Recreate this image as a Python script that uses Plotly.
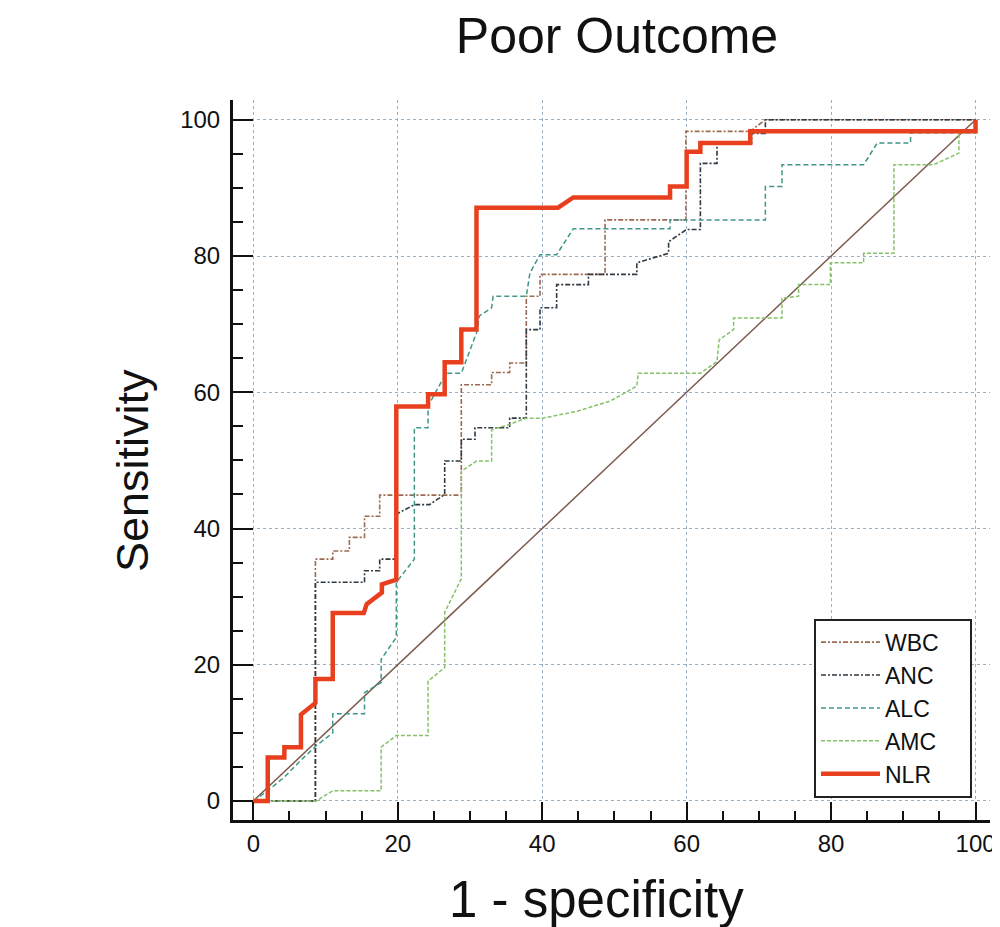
import plotly.graph_objects as go

# ---- Data (1 - specificity, sensitivity) in percent ----
nlr_x = [0, 2, 2, 4.3, 4.3, 6.6, 6.6, 8.6, 8.6, 11, 11, 15.3, 15.7, 17.8, 17.8, 19.8, 19.8, 24.2, 24.2, 26.5, 26.5,
         28.8, 28.8, 30.9, 30.9, 42.2, 44.3, 57.7, 57.7, 60, 60, 61.9, 61.9, 68.8, 68.8, 100, 100]
nlr_y = [0, 0, 6.4, 6.4, 7.9, 7.9, 12.7, 14.4, 17.9, 17.9, 27.6, 27.6, 28.9, 30.6, 31.8, 32.5, 57.9, 57.9, 59.7, 59.7, 64.4,
         64.4, 69.2, 69.2, 87.1, 87.1, 88.6, 88.6, 90.2, 90.2, 95.3, 95.3, 96.6, 96.6, 98.3, 98.3, 100]

wbc_x = [0, 8.6, 8.6, 11.0, 11.0, 13.3, 13.3, 15.4, 15.4, 17.5, 17.5, 28.8, 28.8, 33.0, 33.0, 35.5, 35.5, 37.8, 37.8,
         39.7, 39.7, 48.7, 48.7, 59.9, 59.9, 68.8, 70.9, 100]
wbc_y = [0, 0, 35.5, 35.5, 36.7, 36.7, 38.7, 38.7, 41.8, 41.8, 44.9, 44.9, 61.1, 61.1, 62.9, 62.9, 64.3, 64.3, 74.1,
         74.1, 77.3, 77.3, 85.3, 85.3, 98.3, 98.3, 100, 100]

anc_x = [0, 8.6, 8.6, 15.4, 15.4, 17.5, 17.5, 19.8, 19.8, 22.3, 24.4, 26.5, 26.5, 28.8, 28.8, 30.7, 30.7, 35.5, 35.5,
         37.8, 37.8, 39.7, 39.7, 42.0, 42.0, 46.4, 46.4, 53.1, 53.1, 57.5, 57.5, 60.0, 61.9, 61.9, 64.2, 64.2, 69.0,
         69.0, 70.9, 70.9, 100]
anc_y = [0, 0, 32.1, 32.1, 33.8, 33.8, 35.5, 35.5, 42.1, 43.5, 43.5, 45.0, 49.9, 49.9, 53.1, 53.1, 54.8, 54.8, 56.2,
         56.2, 69.2, 69.2, 72.4, 72.4, 75.8, 75.8, 77.3, 77.3, 79.0, 80.4, 82.1, 83.9, 83.9, 93.6, 93.6, 96.6, 96.6,
         98.0, 98.0, 100, 100]

alc_x = [0, 2, 4.3, 6.6, 8.7, 11.0, 11.0, 15.4, 15.4, 17.7, 17.7, 19.8, 19.8, 22.3, 22.3, 24.2, 24.2, 26.7, 28.8,
         30.9, 31.3, 33.0, 33.2, 37.8, 38.3, 39.7, 42.0, 44.3, 57.7, 57.7, 70.9, 70.9, 73.2, 73.2, 84.5, 86.4, 91.0,
         91.0, 100, 100]
alc_y = [0, 1.5, 3.5, 6.0, 8.1, 10.0, 12.8, 12.8, 15.9, 17.4, 20.8, 24.0, 32.1, 35.5, 54.8, 54.8, 58.0, 62.8, 62.8,
         68.7, 71.2, 72.4, 74.1, 74.1, 77.5, 80.2, 80.2, 84.0, 84.0, 85.3, 85.3, 90.2, 90.2, 93.4, 93.4, 96.6, 96.6,
         98.1, 98.1, 100]

amc_x = [0, 8.7, 11.0, 17.7, 17.7, 19.8, 24.2, 24.2, 26.5, 26.5, 28.8, 28.8, 30.9, 33.0, 33.0, 35.5, 37.8, 40.1,
         44.8, 49.4, 53.1, 53.3, 61.9, 64.2, 64.5, 66.5, 66.5, 73.2, 73.2, 75.5, 75.5, 79.9, 79.9, 84.5, 84.5, 88.7,
         88.7, 94.2, 97.7, 97.7, 100, 100]
amc_y = [0, 0, 1.5, 1.5, 7.9, 9.6, 9.6, 17.6, 19.6, 27.7, 32.6, 48.4, 49.9, 49.9, 54.5, 55.3, 56.2, 56.2,
         57.2, 58.7, 60.9, 62.8, 62.8, 64.5, 67.7, 69.2, 70.9, 70.9, 73.8, 74.1, 75.8, 75.8, 79.0, 79.0, 80.4, 80.4,
         93.4, 93.4, 95.1, 98.0, 98.3, 100]

ref_x = [0, 100]
ref_y = [0, 100]

tick_vals = [0, 20, 40, 60, 80, 100]
series_names = ["WBC", "ANC", "ALC", "AMC", "NLR"]

FONT = "Liberation Sans, Arial, sans-serif"
PAD = "\u00a0" * 4  # widens the legend box to match the reference

fig = go.Figure()
fig.add_trace(go.Scatter(x=ref_x, y=ref_y, mode="lines", showlegend=False,
                         line=dict(color="#7d5a4e", width=1.5)))
fig.add_trace(go.Scatter(x=wbc_x, y=wbc_y, mode="lines", name=series_names[0] + PAD,
                         line=dict(color="#9a6b52", width=1.6, dash="5px,2px,2px,2px")))
fig.add_trace(go.Scatter(x=anc_x, y=anc_y, mode="lines", name=series_names[1] + PAD,
                         line=dict(color="#2f3a42", width=1.6, dash="5px,2px,2px,2px")))
fig.add_trace(go.Scatter(x=alc_x, y=alc_y, mode="lines", name=series_names[2] + PAD,
                         line=dict(color="#3f978a", width=1.5, dash="5px,3px")))
fig.add_trace(go.Scatter(x=amc_x, y=amc_y, mode="lines", name=series_names[3] + PAD,
                         line=dict(color="#86c16a", width=1.5, dash="4px,2px")))
fig.add_trace(go.Scatter(x=nlr_x, y=nlr_y, mode="lines", name=series_names[4] + PAD,
                         line=dict(color="#e8401f", width=4.5)))

axis_common = dict(
    tickvals=tick_vals, ticks="inside", tickwidth=2, tickcolor="#111",
    showline=True, linewidth=3, linecolor="#111",
    showgrid=True, gridcolor="#9aaec4", gridwidth=1, griddash="dot",
    zeroline=False, tickfont=dict(family=FONT, size=24, color="#111"),
    automargin=False,
)

fig.update_xaxes(range=[-2.81, 102.0], ticklen=18, ticklabelstandoff=0,
                 minor=dict(dtick=5, tick0=0, ticks="inside", ticklen=9, tickwidth=2,
                            tickcolor="#111", showgrid=False),
                 **axis_common)
fig.update_yaxes(range=[-2.79, 102.9], ticklen=20, ticklabelstandoff=5,
                 minor=dict(dtick=5, tick0=0, ticks="inside", ticklen=10, tickwidth=2,
                            tickcolor="#111", showgrid=False),
                 **axis_common)

# the page body adds an 8px offset; margins below compensate for it
fig.update_layout(
    width=1000, height=927,
    margin=dict(l=225, r=18, t=92, b=115, autoexpand=False),
    paper_bgcolor="white", plot_bgcolor="white",
    title=dict(text="Poor Outcome", x=0.609, xref="container", xanchor="center",
               y=1 - 27 / 927, yref="container", yanchor="middle",
               font=dict(family=FONT, size=50, color="#111")),
    legend=dict(x=(972 - 233) / 757, xanchor="right", y=0.031, yanchor="bottom",
                bgcolor="white", bordercolor="#222", borderwidth=2,
                font=dict(family=FONT, size=23, color="#111"),
                itemwidth=59, traceorder="normal"),
    annotations=[
        dict(text="1 - specificity", xref="paper", yref="paper", x=(596 - 233) / 757, y=(820 - 899) / 720,
             xanchor="center", yanchor="middle", showarrow=False,
             font=dict(family=FONT, size=51, color="#111")),
        dict(text="Sensitivity", xref="paper", yref="paper", x=(133 - 233) / 757, y=(820 - 470) / 720,
             xanchor="center", yanchor="middle", showarrow=False, textangle=-90,
             font=dict(family=FONT, size=45, color="#111")),
    ],
)

fig.write_html("out.html")
